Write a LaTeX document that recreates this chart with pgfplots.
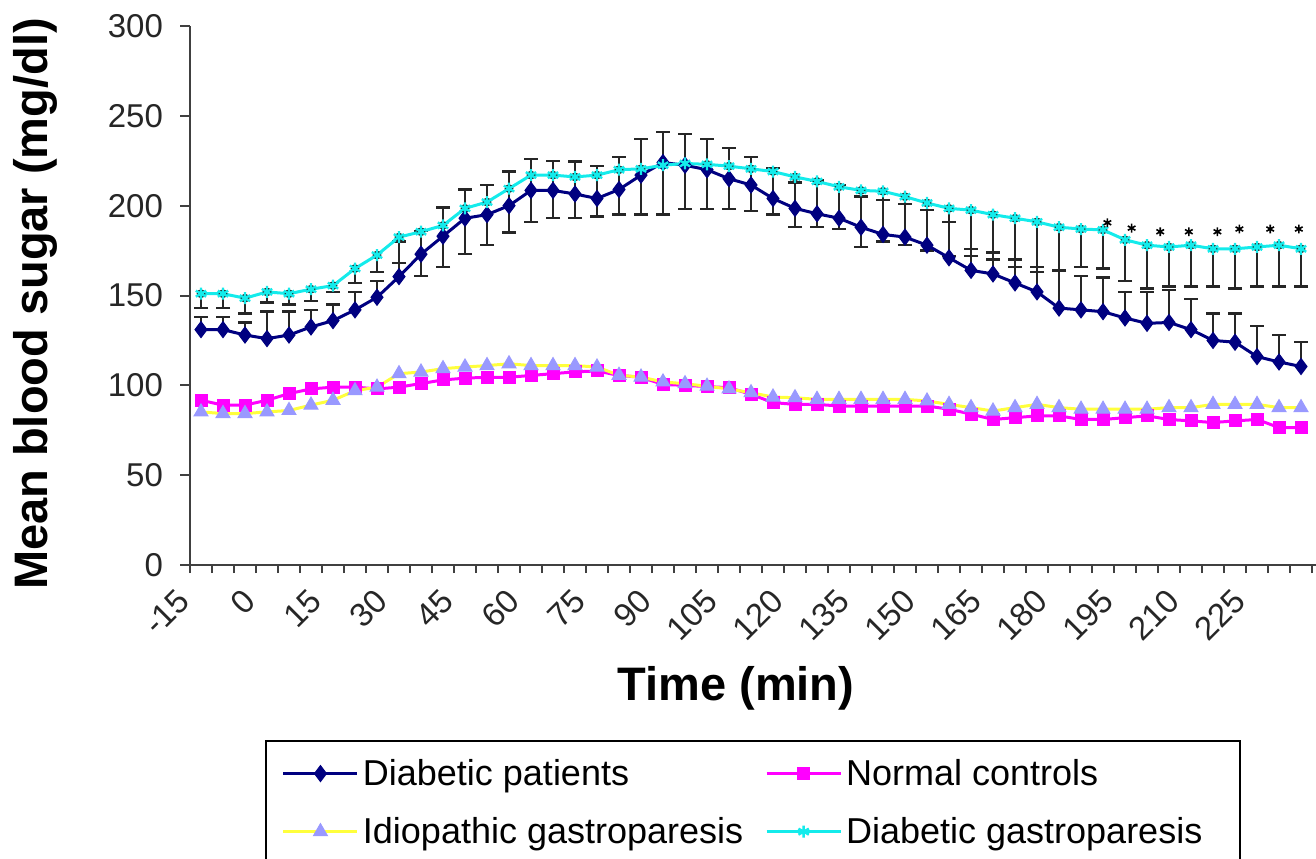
\documentclass[border=0pt]{standalone}
\usepackage{fontspec}
\setmainfont{Liberation Sans}
\usepackage{pgfplots}
\usepackage{pgfplotstable}
\pgfplotsset{compat=1.18}
\definecolor{navyc}{RGB}{0,0,128}
\definecolor{magc}{RGB}{255,0,255}
\definecolor{yelc}{RGB}{255,255,60}
\definecolor{lavc}{RGB}{153,153,255}
\definecolor{cyanc}{RGB}{20,235,235}

\pgfplotstableread{
i dp dpe nc ig dg dge
0 131 7 91.7 85.2 151 8
1 131 7 89 84.3 151 8
2 128 7 89 84.3 148.5 8.5
3 126 15 91.7 85.2 152 6
4 128 13 95.4 86 151 6
5 132.5 9.5 98 89 153.5 6.5
6 136 9 99 91.7 155.5 3.5
7 142 10 99 97 165 8
8 149 9 98 99 172.5 9.5
9 160.5 19.5 99 106.5 182.5 14.5
10 173 13 101 107.4 185.5 24.5
11 183 16 103 109.3 189 23
12 193 16 104 110.2 198.5 25.5
13 195 16.5 104.5 111 202 24
14 200 19 104.5 112 209.5 24.5
15 208.5 17.5 105.5 111 217 26
16 208.5 16.5 106.5 111 217 24
17 206.5 18 107.5 111 216 23
18 204 18 108 110.2 217 23
19 209 18 105.5 105.6 220 25
20 217 20 104.5 104.6 220.5 25.5
21 224 17 100.5 101.9 222.5 27.5
22 222.5 17.5 100 100.9 223.5 25.5
23 220 17 99.3 99.5 223 25
24 215 17 98.7 98 222 24
25 211.5 15.5 95 95.9 220.5 23.5
26 204 17 90.4 93.5 219 24
27 198.5 14.5 89.4 93.1 216 28
28 195.5 18.5 89.4 92.2 213.5 25.5
29 193 18.5 88.5 92.2 210.5 23.5
30 188 17 88.5 92.2 208.5 31.5
31 184 19 88.5 92.2 208 28
32 182.5 18.5 88.5 92.2 205 27
33 178 19.5 88.5 91.3 201.5 26.5
34 171 20 86.7 89.4 198.5 26.5
35 164 12 84 87.6 197.5 25.5
36 162 12 81 85.7 195 25
37 157 13 82 87.6 193 27
38 152 14 83 89.4 191 28
39 143 21 83 87.6 188 24
40 142 19 81 86.7 187 21
41 141 19 81 86.7 186.5 21.5
42 137.5 14.5 82 86.7 181 23
43 134.5 17.5 83 86.7 178 24
44 135 18 81 87.6 177 22
45 131 17 80.2 87.6 178 23
46 125 15 79.3 89.4 176 21
47 124 16 80.2 89.4 176 22
48 116 17 81 89.4 177 22
49 113 15 76.5 87.6 178 23
50 110.5 13.5 76.5 87.6 176 21
}\data

\pgfplotstableread{
x y
41.2 190.5
42.3 187.5
43.6 185.5
44.9 185.5
46.2 185.5
47.2 187
48.6 187
49.9 187
}\stars

\begin{document}
\begin{tikzpicture}[x=1pt,y=1pt]
\useasboundingbox (0,0) rectangle (658,429);
\begin{axis}[
  at={(95pt,146.5pt)}, anchor=south west,
  scale only axis, width=577.5pt, height=269.5pt,
  xmin=-0.5, xmax=52, ymin=0, ymax=300,
  axis x line*=bottom, axis y line*=left,
  axis line style={line width=1pt, color=black!75},
  tick align=outside,
  major tick length=5pt, minor tick length=4pt,
  tick style={line width=1pt, color=black!75},
  ytick={0,50,...,300},
  xtick={0,3,...,48},
  xticklabels={-15,0,15,30,45,60,75,90,105,120,135,150,165,180,195,210,225},
  minor xtick={-0.5,0.5,...,51.5},
  every major x tick/.append style={draw=none},
  /pgf/number format/assume math mode=true,
  yticklabel style={font=\fontsize{16.5}{16.5}\selectfont, color=black!85, xshift=-5pt},
  xticklabel style={font=\fontsize{16.5}{16.5}\selectfont, color=black!85, xshift=-13pt, yshift=-1pt, rotate=45, anchor=north east},
  xlabel={Time (min)},
  ylabel={Mean blood sugar (mg/dl)},
  every axis x label/.style={at={(axis description cs:0.4727,-0.228)}, anchor=center, font=\bfseries\fontsize{23.5}{23.5}\selectfont},
  every axis y label/.style={at={(axis description cs:-0.1342,0.4842)}, rotate=90, anchor=center, font=\bfseries\fontsize{23.5}{23.5}\selectfont},
  legend columns=2,
  legend cell align=left,
  legend style={at={(axis description cs:0.0649,-0.3247)}, anchor=north west, draw=black, line width=1pt,
    font=\fontsize{18}{18}\selectfont, inner xsep=8pt, inner ysep=7pt, row sep=10.5pt,
    /tikz/every even column/.append style={column sep=9pt}},
  legend image code/.code={\draw[#1, mark repeat=2, mark phase=2] plot coordinates {(0pt,0pt) (18.5pt,0pt) (37pt,0pt)};},
]
% error bars
\addplot[forget plot, only marks, mark=none, black!85,
  error bars/.cd, y dir=plus, y explicit,
  error bar style={draw=black!85, line width=1.2pt},
  error mark=-,
  error mark options={draw=black!85, line width=1.2pt, mark size=3.5pt, rotate=90}]
  table[x=i, y=dp, y error=dpe] {\data};
\addplot[forget plot, only marks, mark=none, black!85,
  error bars/.cd, y dir=minus, y explicit,
  error bar style={draw=black!85, line width=1.2pt},
  error mark=-,
  error mark options={draw=black!85, line width=1.2pt, mark size=3.5pt, rotate=90}]
  table[x=i, y=dg, y error=dge] {\data};

\addplot[navyc, line width=1.5pt, mark=diamond*, mark size=4pt, mark options={fill=navyc, draw=navyc, line width=0.5pt}]
  table[x=i, y=dp] {\data};
\addlegendentry{Diabetic patients}
\addplot[magc, line width=1.5pt, mark=square*, mark size=3pt, mark options={fill=magc, draw=magc, line width=0.5pt}]
  table[x=i, y=nc] {\data};
\addlegendentry{Normal controls}
\addplot[yelc, line width=1.5pt, mark=triangle*, mark size=4pt, mark options={fill=lavc, draw=lavc, line width=0.5pt}]
  table[x=i, y=ig] {\data};
\addlegendentry{Idiopathic gastroparesis}
\addplot[cyanc, line width=1.5pt, mark=asterisk, mark size=3pt, mark options={draw=cyanc, line width=1.2pt}]
  table[x=i, y=dg] {\data};
\addlegendentry{Diabetic gastroparesis\hspace*{9pt}}

\addplot[forget plot, only marks, mark=asterisk, mark size=2.2pt, black, mark options={line width=0.8pt}]
  table[x=x, y=y] {\stars};
\end{axis}
\end{tikzpicture}
\end{document}
